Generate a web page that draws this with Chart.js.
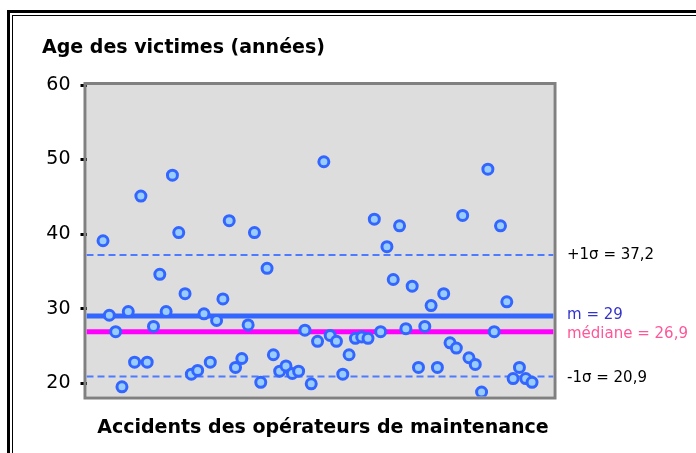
<!DOCTYPE html>
<html>
<head>
<meta charset="utf-8">
<script src="https://cdn.jsdelivr.net/npm/chart.js@4.4.1/dist/chart.umd.min.js"></script>
<style>
  html, body { margin: 0; padding: 0; background: #fff; overflow: hidden; }
</style>
</head>
<body>
<canvas id="chart" width="696" height="453"></canvas>
<script>
// ages of the victims, one point per accident, read left to right
const ages = [
  39.1, 29.1, 26.9, 19.5, 29.6, 22.8, 45.1, 22.8, 27.6, 34.6,
  29.6, 47.9, 40.2, 32.0, 21.2, 21.7, 29.3, 22.8, 28.4, 31.3,
  41.8, 22.1, 23.3, 27.8, 40.2, 20.1, 35.4, 23.8, 21.6, 22.3,
  21.3, 21.6, 27.1, 19.9, 25.6, 49.7, 26.4, 25.6, 21.2, 23.8,
  26.0, 26.2, 26.0, 42.0, 26.9, 38.3, 33.9, 41.1, 27.3, 33.0,
  22.1, 27.6, 30.4, 22.1, 32.0, 25.4, 24.7, 42.5, 23.4, 22.5,
  18.8, 48.7, 26.9, 41.1, 30.9, 20.6, 22.1, 20.6, 20.1
];
const meanAge = 29;
const medianAge = 26.9;
const sigmaHigh = 37.2;
const sigmaLow = 20.9;
const yTicks = [20, 30, 40, 50, 60];

const xMin = -1.62, xMax = 72.4;
const yMin = 18.2, yMax = 60;

const hLine = (v) => [{ x: xMin, y: v }, { x: xMax, y: v }];

const frame = {
  id: 'frame',
  beforeDraw(chart) {
    const { ctx, chartArea: a } = chart;
    ctx.save();
    ctx.fillStyle = '#000';
    ctx.fillRect(7, 10, 3, 1000);
    ctx.fillRect(7, 10, 1000, 3);
    ctx.fillRect(12, 15, 1, 1000);
    ctx.fillRect(12, 15, 1000, 1);
    ctx.fillStyle = '#dddddd';
    ctx.fillRect(a.left, a.top, a.right - a.left, a.bottom - a.top);
    ctx.restore();
  },
  beforeDatasetsDraw(chart) {
    const { ctx, chartArea: a } = chart;
    ctx.save();
    ctx.strokeStyle = '#808080';
    ctx.lineWidth = 3;
    ctx.strokeRect(a.left - 1.5, a.top - 1.5, a.right - a.left + 3, a.bottom - a.top + 3);
    ctx.restore();
  },
  afterDraw(chart) {
    const { ctx } = chart;
    const y = chart.scales.y;
    ctx.save();
    ctx.fillStyle = '#000';
    ctx.textBaseline = 'middle';
    ctx.font = 'bold 19px "DejaVu Sans"';
    ctx.textAlign = 'left';
    ctx.fillText('Age des victimes (années)', 42, 48);
    ctx.textAlign = 'center';
    ctx.fillText('Accidents des opérateurs de maintenance', 323, 428);

    ctx.textAlign = 'left';
    ctx.font = '15px "DejaVu Sans"';
    const lx = 567;
    ctx.fillStyle = '#000';
    ctx.fillText('+1σ = 37,2', lx, y.getPixelForValue(sigmaHigh));
    ctx.fillText('-1σ = 20,9', lx, y.getPixelForValue(sigmaLow) + 2);
    ctx.fillStyle = '#3333cc';
    ctx.fillText('m = 29', lx, y.getPixelForValue(meanAge) - 1);
    ctx.fillStyle = '#ff5599';
    ctx.fillText('médiane = 26,9', lx, y.getPixelForValue(medianAge) + 2);
    ctx.restore();
  }
};

new Chart(document.getElementById('chart'), {
  type: 'scatter',
  data: {
    datasets: [
      {
        data: ages.map((a, i) => ({ x: i + 1, y: a })),
        pointRadius: 5,
        borderWidth: 3,
        borderColor: '#3366ff',
        backgroundColor: '#99ccff',
        showLine: false
      },
      { type: 'line', data: hLine(meanAge), borderColor: '#3366ff', borderWidth: 5, pointRadius: 0 },
      { type: 'line', data: hLine(medianAge), borderColor: '#ff00ff', borderWidth: 5, pointRadius: 0 },
      { type: 'line', data: hLine(sigmaHigh), borderColor: '#4d7aff', borderWidth: 2, borderDash: [7, 4], pointRadius: 0 },
      { type: 'line', data: hLine(sigmaLow), borderColor: '#4d7aff', borderWidth: 2, borderDash: [7, 4], pointRadius: 0 }
    ]
  },
  options: {
    responsive: false,
    animation: false,
    layout: { padding: { left: 0, top: 85, right: 142.5, bottom: 56.5 } },
    plugins: { legend: { display: false }, tooltip: { enabled: false } },
    scales: {
      x: { type: 'linear', min: xMin, max: xMax, display: false },
      y: {
        min: yMin,
        max: yMax,
        afterBuildTicks: (s) => { s.ticks = yTicks.map(v => ({ value: v })); },
        afterFit: (s) => { s.width = 86.5; },
        border: { display: false },
        grid: { drawOnChartArea: false, drawTicks: true, tickLength: 6, tickColor: '#000', tickWidth: 3 },
        ticks: { color: '#000', padding: 10, font: { family: 'DejaVu Sans', size: 19 } }
      }
    }
  },
  plugins: [frame]
});
</script>
</body>
</html>
